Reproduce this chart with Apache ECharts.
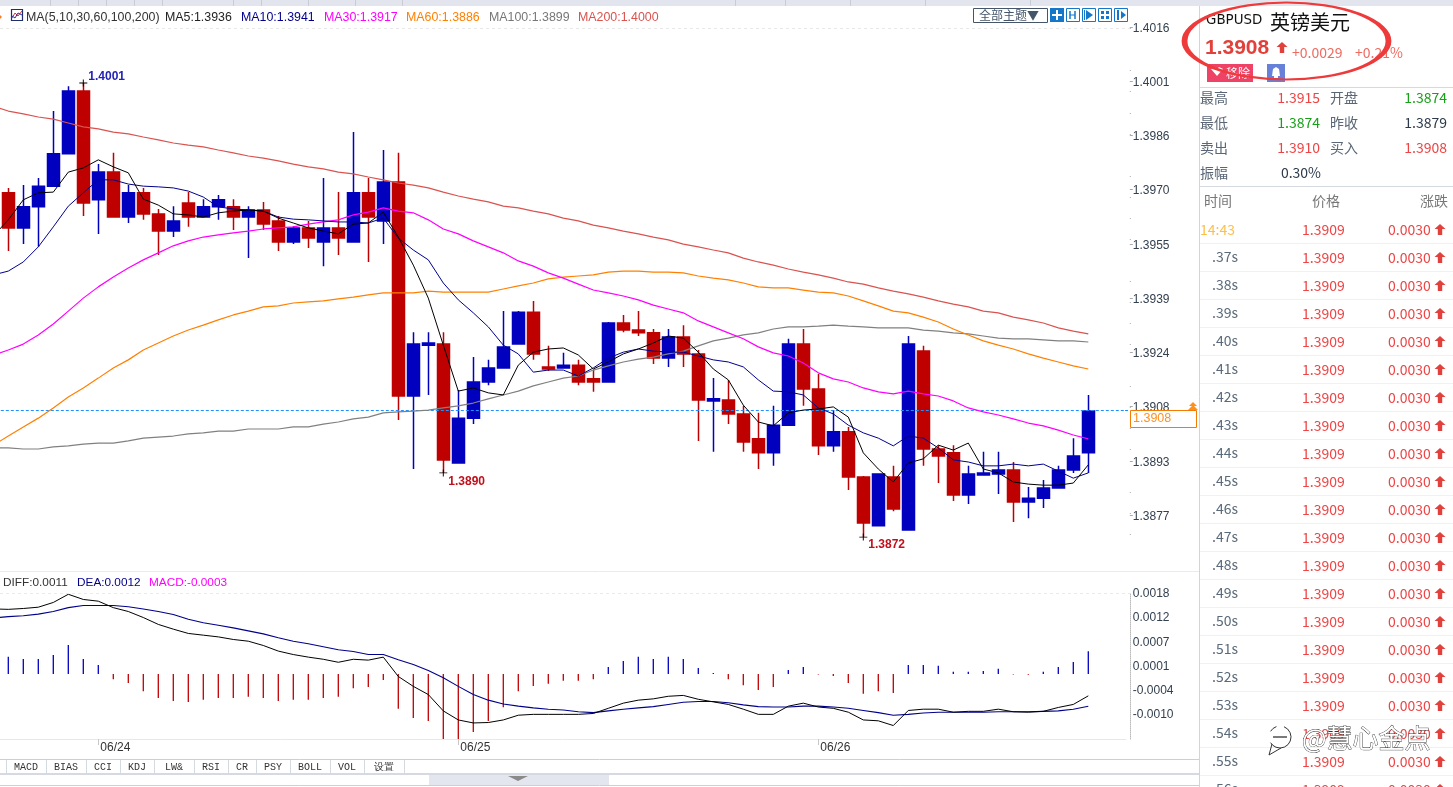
<!DOCTYPE html>
<html><head><meta charset="utf-8"><title>GBPUSD</title>
<script src="https://cdn.jsdelivr.net/npm/echarts@6/dist/echarts.min.js"></script>
<style>html,body{margin:0;padding:0;background:#fff;overflow:hidden}#c{width:1453px;height:787px}</style>
</head><body><div id="c"></div>
<script>
const opens=[1.39692,1.39592,1.39652,1.39711,1.39803,1.39982,1.39672,1.39751,1.39623,1.39692,1.39632,1.39583,1.39663,1.39623,1.39652,1.39652,1.39623,1.39643,1.39612,1.39552,1.39592,1.39552,1.39592,1.39552,1.39692,1.39612,1.39723,1.39113,1.39258,1.39261,1.38922,1.39050,1.39153,1.39193,1.39261,1.39352,1.39196,1.39193,1.39201,1.39162,1.39153,1.39321,1.39301,1.39293,1.39221,1.39281,1.39233,1.39099,1.39102,1.39062,1.38991,1.38951,1.39030,1.39261,1.39133,1.38971,1.39011,1.38882,1.38743,1.38882,1.38731,1.39241,1.38962,1.38951,1.38831,1.38888,1.38891,1.38902,1.38811,1.38822,1.38851,1.38902,1.38951];
const closes=[1.39592,1.39652,1.39711,1.39803,1.39982,1.39663,1.39751,1.39623,1.39692,1.39632,1.39583,1.39612,1.39623,1.39652,1.39672,1.39623,1.39643,1.39603,1.39552,1.39592,1.39563,1.39592,1.39563,1.39692,1.39623,1.39723,1.39113,1.39261,1.39264,1.38931,1.39050,1.39153,1.39193,1.39253,1.39352,1.39233,1.39190,1.39201,1.39153,1.39153,1.39321,1.39301,1.39293,1.39221,1.39281,1.39233,1.39102,1.39105,1.39062,1.38982,1.38951,1.39030,1.39261,1.39133,1.38971,1.39011,1.38882,1.38751,1.38891,1.38791,1.39261,1.38962,1.38942,1.38831,1.38891,1.38894,1.38902,1.38811,1.38822,1.38851,1.38902,1.38942,1.39070];
const lows=[1.39526,1.39546,1.39538,1.39711,1.39803,1.39626,1.39575,1.39623,1.39606,1.39615,1.39515,1.39566,1.39595,1.39623,1.39615,1.39586,1.39506,1.39586,1.39526,1.39546,1.39535,1.39483,1.39515,1.39552,1.39495,1.39546,1.39045,1.38905,1.39116,1.38894,1.38922,1.39033,1.39144,1.39193,1.39261,1.39216,1.39184,1.39193,1.39144,1.39125,1.39153,1.39295,1.39284,1.39204,1.39196,1.39196,1.38985,1.38954,1.39033,1.38954,1.38905,1.38914,1.39030,1.39085,1.38945,1.38954,1.38845,1.38711,1.38743,1.38785,1.38731,1.38914,1.38865,1.38814,1.38805,1.38888,1.38834,1.38754,1.38765,1.38794,1.38851,1.38894,1.38894];
const highs=[1.39706,1.39714,1.39734,1.39925,1.39996,1.40005,1.39774,1.39806,1.39714,1.39706,1.39646,1.39654,1.39694,1.39674,1.39686,1.39674,1.39654,1.39666,1.39626,1.39597,1.39612,1.39734,1.39694,1.39865,1.39734,1.39814,1.39806,1.39295,1.39295,1.39295,1.39130,1.39224,1.39216,1.39355,1.39355,1.39384,1.39256,1.39236,1.39216,1.39187,1.39324,1.39344,1.39355,1.39304,1.39304,1.39315,1.39244,1.39164,1.39159,1.39085,1.39065,1.39085,1.39276,1.39304,1.39176,1.39073,1.39025,1.38885,1.38891,1.38914,1.39284,1.39256,1.38973,1.38973,1.38914,1.38954,1.38954,1.38925,1.38854,1.38874,1.38914,1.38993,1.39116];
// first value of each line belongs to the bar just off the left edge
const ma5=[1.39569,1.39615,1.39672,1.39692,1.39694,1.39751,1.39763,1.39786,1.39766,1.39749,1.39674,1.39657,1.39632,1.39629,1.39623,1.39635,1.39640,1.39643,1.39640,1.39620,1.39606,1.39592,1.39583,1.39575,1.39603,1.39606,1.39637,1.39566,1.39486,1.39392,1.39258,1.39127,1.39136,1.39122,1.39116,1.39201,1.39238,1.39247,1.39250,1.39230,1.39190,1.39210,1.39233,1.39247,1.39264,1.39284,1.39278,1.39238,1.39190,1.39159,1.39087,1.39039,1.39028,1.39065,1.39073,1.39076,1.39082,1.39053,1.38951,1.38905,1.38868,1.38922,1.38934,1.38973,1.38959,1.38979,1.38905,1.38894,1.38868,1.38862,1.38859,1.38859,1.38865,1.38917];
const ma10=[1.39458,1.39469,1.39495,1.39538,1.39595,1.39654,1.39692,1.39729,1.39729,1.39717,1.39711,1.39709,1.39706,1.39697,1.39680,1.39652,1.39646,1.39643,1.39640,1.39623,1.39617,1.39615,1.39612,1.39609,1.39609,1.39606,1.39620,1.39563,1.39529,1.39501,1.39435,1.39387,1.39350,1.39310,1.39258,1.39233,1.39181,1.39187,1.39187,1.39170,1.39193,1.39221,1.39238,1.39247,1.39241,1.39238,1.39238,1.39227,1.39216,1.39210,1.39196,1.39159,1.39127,1.39125,1.39116,1.39079,1.39062,1.39030,1.39008,1.38993,1.38971,1.38999,1.38993,1.38965,1.38931,1.38925,1.38914,1.38914,1.38919,1.38914,1.38919,1.38899,1.38879,1.38894];
const ma30=[1.39230,1.39244,1.39261,1.39287,1.39318,1.39355,1.39392,1.39424,1.39452,1.39478,1.39501,1.39521,1.39541,1.39555,1.39566,1.39572,1.39578,1.39583,1.39589,1.39592,1.39595,1.39603,1.39609,1.39615,1.39629,1.39637,1.39649,1.39640,1.39635,1.39615,1.39589,1.39575,1.39555,1.39538,1.39521,1.39498,1.39483,1.39464,1.39449,1.39432,1.39415,1.39407,1.39398,1.39387,1.39372,1.39361,1.39350,1.39327,1.39310,1.39293,1.39276,1.39253,1.39236,1.39227,1.39207,1.39179,1.39162,1.39153,1.39136,1.39125,1.39119,1.39127,1.39119,1.39113,1.39099,1.39079,1.39068,1.39059,1.39048,1.39036,1.39028,1.39016,1.39002,1.38991];
const ma60=[1.38973,1.38999,1.39025,1.39050,1.39079,1.39110,1.39136,1.39164,1.39193,1.39216,1.39244,1.39264,1.39284,1.39301,1.39315,1.39330,1.39344,1.39355,1.39367,1.39370,1.39378,1.39381,1.39384,1.39390,1.39395,1.39401,1.39407,1.39407,1.39407,1.39412,1.39409,1.39409,1.39409,1.39409,1.39418,1.39427,1.39435,1.39447,1.39452,1.39455,1.39458,1.39466,1.39469,1.39469,1.39466,1.39466,1.39464,1.39455,1.39449,1.39444,1.39435,1.39424,1.39421,1.39421,1.39415,1.39409,1.39407,1.39398,1.39384,1.39370,1.39355,1.39350,1.39338,1.39324,1.39304,1.39287,1.39270,1.39258,1.39247,1.39233,1.39221,1.39210,1.39199,1.39190];
const ma100=[1.38965,1.38965,1.38962,1.38962,1.38968,1.38971,1.38976,1.38979,1.38979,1.38985,1.38993,1.38996,1.38999,1.39005,1.39008,1.39013,1.39013,1.39019,1.39019,1.39019,1.39025,1.39025,1.39033,1.39039,1.39048,1.39053,1.39065,1.39068,1.39070,1.39073,1.39079,1.39085,1.39093,1.39105,1.39116,1.39127,1.39142,1.39153,1.39164,1.39170,1.39187,1.39199,1.39210,1.39218,1.39224,1.39233,1.39241,1.39256,1.39270,1.39278,1.39287,1.39293,1.39304,1.39310,1.39310,1.39312,1.39315,1.39312,1.39310,1.39307,1.39307,1.39307,1.39301,1.39298,1.39293,1.39290,1.39284,1.39278,1.39276,1.39276,1.39273,1.39270,1.39270,1.39267];
const ma200=[1.39939,1.39925,1.39917,1.39908,1.39902,1.39891,1.39880,1.39874,1.39865,1.39860,1.39851,1.39843,1.39834,1.39828,1.39823,1.39814,1.39806,1.39797,1.39791,1.39783,1.39774,1.39766,1.39760,1.39751,1.39746,1.39737,1.39729,1.39720,1.39714,1.39706,1.39694,1.39683,1.39674,1.39666,1.39654,1.39649,1.39640,1.39632,1.39620,1.39612,1.39600,1.39592,1.39583,1.39575,1.39566,1.39558,1.39546,1.39538,1.39529,1.39521,1.39506,1.39495,1.39486,1.39475,1.39466,1.39458,1.39449,1.39438,1.39432,1.39421,1.39412,1.39404,1.39395,1.39384,1.39375,1.39367,1.39355,1.39350,1.39338,1.39330,1.39321,1.39307,1.39298,1.39290];
const diff=[0.00143,0.00142,0.00144,0.00147,0.00158,0.00177,0.00165,0.00161,0.00146,0.00137,0.00123,0.00107,0.00096,0.00086,0.00082,0.00078,0.00072,0.00068,0.00058,0.00045,0.00037,0.00031,0.00026,0.00019,0.00026,0.00024,0.00031,-0.00014,-0.00037,-0.00056,-0.00094,-0.00115,-0.00122,-0.00121,-0.00115,-0.00104,-0.00102,-0.00102,-0.00102,-0.00102,-0.00100,-0.00088,-0.00076,-0.00069,-0.00066,-0.00060,-0.00058,-0.00067,-0.00073,-0.00079,-0.00090,-0.00102,-0.00102,-0.00083,-0.00076,-0.00085,-0.00088,-0.00097,-0.00115,-0.00117,-0.00128,-0.00093,-0.00090,-0.00090,-0.00097,-0.00095,-0.00095,-0.00090,-0.00096,-0.00097,-0.00095,-0.00086,-0.00079,-0.00059];
const dea=[0.00122,0.00125,0.00127,0.00131,0.00137,0.00146,0.00151,0.00151,0.00151,0.00148,0.00143,0.00137,0.00130,0.00119,0.00111,0.00105,0.00099,0.00092,0.00085,0.00076,0.00068,0.00062,0.00055,0.00048,0.00044,0.00037,0.00037,0.00025,0.00014,0.00000,-0.00017,-0.00037,-0.00056,-0.00069,-0.00078,-0.00083,-0.00087,-0.00090,-0.00092,-0.00096,-0.00098,-0.00094,-0.00090,-0.00087,-0.00084,-0.00079,-0.00074,-0.00072,-0.00072,-0.00075,-0.00080,-0.00084,-0.00085,-0.00085,-0.00083,-0.00083,-0.00085,-0.00088,-0.00093,-0.00098,-0.00104,-0.00102,-0.00099,-0.00097,-0.00097,-0.00097,-0.00097,-0.00096,-0.00096,-0.00096,-0.00095,-0.00094,-0.00090,-0.00083];
const macd=[0.00040,0.00035,0.00035,0.00044,0.00067,0.00035,0.00021,-0.00012,-0.00021,-0.00040,-0.00056,-0.00063,-0.00065,-0.00060,-0.00056,-0.00056,-0.00053,-0.00056,-0.00063,-0.00060,-0.00060,-0.00056,-0.00053,-0.00033,-0.00030,-0.00014,-0.00081,-0.00102,-0.00109,-0.00151,-0.00151,-0.00135,-0.00109,-0.00077,-0.00040,-0.00028,-0.00023,-0.00016,-0.00016,-0.00012,0.00016,0.00030,0.00040,0.00035,0.00040,0.00035,0.00014,0.00002,-0.00012,-0.00026,-0.00037,-0.00030,0.00009,0.00016,-0.00001,-0.00005,-0.00021,-0.00046,-0.00040,-0.00044,0.00021,0.00021,0.00019,0.00005,0.00005,0.00007,0.00012,-0.00001,-0.00002,0.00005,0.00016,0.00028,0.00053];
const priceTicks=[1.38774,1.389285,1.39083,1.392375,1.39392,1.395465,1.39701,1.398555,1.4001,1.401645];
const macdTicks=[0.0018,0.00124,0.00068,0.00012,-0.00044,-0.0010];
const dateTicks={7:'06/24',31:'06/25',55:'06/26'};
const lastPrice=1.39072;
const extremes=[{i:5,value:1.40005,text:'1.4001',color:'#2323b8',offset:[0,-6]},{i:29,value:1.38894,text:'1.3890',color:'#c0101c',offset:[0,9]},{i:57,value:1.38711,text:'1.3872',color:'#c0101c',offset:[0,8]}];
const maHeader=[['MA(5,10,30,60,100,200)',26,'#333'],['MA5:1.3936',165,'#222'],['MA10:1.3941',241,'#00008b'],['MA30:1.3917',324,'#ff00ff'],['MA60:1.3886',406,'#ff8000'],['MA100:1.3899',489,'#777'],['MA200:1.4000',578,'#d9534f']];
const macdHeader=[['DIFF:0.0011',3,'#333'],['DEA:0.0012',77,'#00008b'],['MACD:-0.0003',149,'#ff00ff']];
const tabs=['MACD','BIAS','CCI','KDJ','LW&','RSI','CR','PSY','BOLL','VOL','设置'];
const tabEdges=[6,46,86,120,154,194,228,256,290,330,364,404];
const statRows=[['最高','1.3915','开盘','1.3874','#ee4444','#18a018',98],['最低','1.3874','昨收','1.3879','#18a018','#2b3a4a',123],['卖出','1.3910','买入','1.3908','#ee4444','#ee4444',148]];
const tapeTimes=['14:43','.37s','.38s','.39s','.40s','.41s','.42s','.43s','.44s','.45s','.46s','.47s','.48s','.49s','.50s','.51s','.52s','.53s','.54s','.55s','.56s'];
const tapePrice='1.3909', tapeChange='0.0030';

const UP='#0000be', DOWN='#be0000';
const n=opens.length;
const candle=[['-','-','-','-']];
for(let i=0;i<n;i++) candle.push([opens[i],closes[i],lows[i],highs[i]]);
const TOTAL=n+3;
const cats=Array.from({length:TOTAL},(_,j)=>String(j));
const macdBars=['-'].concat(macd);

const lineSeries=(name,data,color,w,xi,yi)=>({name,type:'line',data,xAxisIndex:xi,yAxisIndex:yi,showSymbol:false,symbol:'none',smooth:false,silent:true,lineStyle:{color,width:w},z:5});

const g=[];
const UI='"Noto Sans CJK SC","Noto Sans",sans-serif', AR='"Liberation Sans",Arial,sans-serif';
const T=(x,y,text,fill,font,align)=>g.push({type:'text',z:50,silent:true,style:{x,y,text,fill,font,textAlign:align||'left',textVerticalAlign:'middle'}});
const R=(x,y,w,h,fill,stroke,lw,z)=>g.push({type:'rect',z:z||40,silent:true,shape:{x,y,width:w,height:h},style:{fill:fill||'transparent',stroke:stroke||'transparent',lineWidth:lw||0}});
const L=(x1,y1,x2,y2,c,lw,dash,z)=>g.push({type:'line',z:z||40,silent:true,shape:{x1,y1,x2,y2},style:{stroke:c,lineWidth:lw||1,lineDash:dash||[]}});
const Up=(cx,cy,c)=>g.push({type:'polygon',z:50,silent:true,shape:{points:[[cx,cy-6],[cx+5.5,cy-1],[cx+2.2,cy-1],[cx+2.2,cy+5],[cx-2.2,cy+5],[cx-2.2,cy-1],[cx-5.5,cy-1]]},style:{fill:c}});

// window chrome
R(0,0,1453,6,'#e3e5ee');
[50,78,106,134,162,233,261,308,355,402,735,785,850,925,1030].forEach(x=>L(x+.5,0,x+.5,6,'#c9ccd6'));
R(1199,6,254,781,'#fff');
L(1199.5,6,1199.5,787,'#cfd5dc');
L(0,28.5,1130,28.5,'#e8e8e8',1,[3,3]);
L(0,571.5,1199,571.5,'#e9ecef');
L(0,593.5,1130,593.5,'#eaeaea',1,[3,3]);
// MA header
g.push({type:'polygon',z:50,silent:true,shape:{points:[[0,15],[2,17],[0,19]]},style:{fill:'#f08030'}});
R(11.5,9.5,11,11,'#fff','#1f2d6b',1.2);
g.push({type:'polyline',z:51,silent:true,shape:{points:[[12,18],[15,13],[18,16],[22,11]]},style:{stroke:'#e03030',fill:'transparent',lineWidth:1}});
g.push({type:'polyline',z:51,silent:true,shape:{points:[[12,16],[15,18],[18,13],[22,15]]},style:{stroke:'#2030c0',fill:'transparent',lineWidth:1}});
maHeader.forEach(h=>T(h[1],18,h[0],h[2],'12.4px '+AR));
macdHeader.forEach(h=>T(h[1],583,h[0],h[2],'11.8px '+AR));
// toolbar
R(973.5,8.5,74,14,'#fff','#45566b',1);
T(979,15.5,'全部主题▼','#45566b','12px '+UI);
R(1050,8,14,14,'#1577c9');
L(1057,10,1057,20,'#fff',2,[],41); L(1052,15,1062,15,'#fff',2,[],41);
[1066,1082,1098,1114].forEach((x,k)=>{R(x+.5,8.5,13,13,'#fff','#1577c9',1);
 if(k===0){L(x+4,11,x+4,19,'#1577c9',1.5,[],41);L(x+9,11,x+9,19,'#1577c9',1.5,[],41);L(x+4,15,x+9,15,'#1577c9',1,[],41);}
 if(k===1){g.push({type:'polygon',z:51,silent:true,shape:{points:[[x+4,10],[x+11,15],[x+4,20]]},style:{fill:'#1577c9'}});L(x+2.5,10,x+2.5,20,'#1577c9',1,[],41);}
 if(k===2){[[3,3],[8,3],[3,8],[8,8]].forEach(p=>R(x+p[0],8+p[1],3,3,'#1577c9',null,0,41));}
 if(k===3){L(x+4,10,x+4,20,'#1577c9',2,[],41);g.push({type:'polygon',z:51,silent:true,shape:{points:[[x+7,11],[x+12,15],[x+7,19]]},style:{fill:'#1577c9'}});}
});
// last-price tag
L(1125,410.5,1130,410.5,'#1e90ff',1,[3,2],6);
R(1130.5,410.5,66,17,'#fff','#f57c00',1,45);
T(1133,419,'1.3908','#ff9020','12.5px '+AR);
g.push({type:'polygon',z:50,silent:true,shape:{points:[[1193,402],[1197,406],[1189,406]]},style:{fill:'#ff9020'}});
g.push({type:'polygon',z:50,silent:true,shape:{points:[[1193,405],[1198,410],[1188,410]]},style:{fill:'#ff9020'}});
// bottom tabs
L(0,759.5,1199,759.5,'#c8d0d8');
tabs.forEach((t,k)=>{const a=tabEdges[k],b=tabEdges[k+1];T((a+b)/2,767,t,'#333','10px "Liberation Mono",monospace','center');L(b+.5,760,b+.5,774,'#d5dae0');});
L(6.5,760,6.5,774,'#d5dae0');
R(0,773,1199,2,'#d5dae2');
L(0,785.5,1199,785.5,'#c8d0d8');
R(429,775,180,10,'#e3e6ef');
g.push({type:'polygon',z:51,silent:true,shape:{points:[[508,776],[528,776],[518,781]]},style:{fill:'#8a8a8a'}});
// right panel head
T(1206,21,'GBPUSD','#111','13.4px "DejaVu Sans",sans-serif');
T(1270,22,'英镑美元','#111','20px '+UI);
T(1205,48,'1.3908','#e2403a','bold 21px '+AR);
Up(1282,48,'#e2403a');
T(1292,53,'+0.0029','#ee6b60','14px '+UI);
T(1355,53,'+0.21%','#ee6b60','14px '+UI);
R(1207,64,46,18,'#ee4266');
T(1226,73,'移除','#fff','12px '+UI);
g.push({type:'polygon',z:51,silent:true,shape:{points:[[1211,69],[1215,67],[1217,69],[1219,67],[1223,69],[1217,76]]},style:{fill:'#fff'}});
R(1267,64,18,18,'#6781d8');
g.push({type:'polygon',z:51,silent:true,shape:{points:[[1276,67],[1279,69],[1280,76],[1272,76],[1273,69]]},style:{fill:'#fff'}});
R(1274,76,4,2,'#fff',null,0,51);
L(1200,87.5,1453,87.5,'#d5dae0');
L(1200,186.5,1453,186.5,'#d5dae0');
statRows.forEach(r=>{T(1200,r[6],r[0],'#5a6675','14px '+UI);T(1320,r[6],r[1],r[4],'14px '+UI,'right');T(1330,r[6],r[2],'#5a6675','14px '+UI);T(1447,r[6],r[3],r[5],'14px '+UI,'right');});
T(1200,173,'振幅','#5a6675','14px '+UI);T(1321,173,'0.30%','#2b3a4a','14px '+UI,'right');
T(1204,201,'时间','#777','14px '+UI);T(1312,201,'价格','#777','14px '+UI);T(1420,201,'涨跌','#777','14px '+UI);
tapeTimes.forEach((t,k)=>{const y=230+28*k;
 if(k===0) T(1200,y,t,'#fcbf49','14px '+UI); else T(1212,y-1,t,'#5a6a7a','14px '+UI);
 T(1302,y,tapePrice,'#ee4444','14px '+UI);
 T(1388,y,tapeChange,'#ee4444','14px '+UI);
 Up(1440,y,'#e2403a');
 L(1200,y+13.5,1453,y+13.5,'#f1f1f1');
});
// red hand-drawn ring and watermark
g.push({type:'circle',z:60,silent:true,scaleX:102/38.5,originX:1286.5,originY:41,shape:{cx:1286.5,cy:41,r:38.5},style:{fill:'transparent',stroke:'#ee3a3a',lineWidth:2.2,strokeNoScale:true}});
g.push({type:'text',z:70,silent:true,style:{x:1302,y:738,text:'@慧心金点',fill:'#fff',stroke:'#333',lineWidth:0.8,font:'26px '+UI,textAlign:'left',textVerticalAlign:'middle'}});
g.push({type:'arc',z:70,silent:true,shape:{cx:1280,cy:737,r:11,startAngle:-1.2,endAngle:2.6,clockwise:true},style:{fill:'transparent',stroke:'#333',lineWidth:1}});
g.push({type:'arc',z:70,silent:true,shape:{cx:1280,cy:737,r:11,startAngle:-2.6,endAngle:-1.9,clockwise:true},style:{fill:'transparent',stroke:'#333',lineWidth:1}});
L(1273,737,1287,737,'#333',1.3,[],71);
g.push({type:'polyline',z:71,silent:true,shape:{points:[[1272,744],[1269,755],[1281,748]]},style:{stroke:'#333',fill:'transparent',lineWidth:1}});

const chart=echarts.init(document.getElementById('c'),null,{renderer:'canvas',width:1453,height:787});
chart.setOption({
 animation:false,backgroundColor:'#fff',
 textStyle:{fontFamily:AR},
 grid:[{left:-14.2,width:1140,top:27,height:528,containLabel:false,outerBoundsMode:'none'},{left:-14.2,width:1140,top:593,height:146,containLabel:false,outerBoundsMode:'none'}],
 xAxis:[
  {type:'category',gridIndex:0,data:cats,boundaryGap:true,axisLine:{show:false,onZero:false},axisTick:{show:false},axisLabel:{show:false},splitLine:{show:false}},
  {type:'category',gridIndex:1,data:cats,boundaryGap:true,axisLine:{show:true,onZero:false,lineStyle:{color:'#e6e8ea'}},
   axisTick:{show:true,alignWithLabel:true,length:6,lineStyle:{color:'#c8c8c8'},interval:(i)=>!!dateTicks[i]},
   axisLabel:{show:true,interval:(i)=>!!dateTicks[i],formatter:v=>dateTicks[v]?'{d|'+dateTicks[v]+'}':'',align:'left',margin:2,hideOverlap:false,rich:{d:{color:'#333',fontSize:12,fontFamily:AR,padding:[1,0,0,2]}}},splitLine:{show:false}}
 ],
 yAxis:[
  {type:'value',gridIndex:0,position:'right',offset:4,min:1.3866,max:1.401645,
   axisLine:{show:false},splitLine:{show:false},
   axisTick:{show:true,length:3,lineStyle:{color:'#aaa'},customValues:priceTicks},
   minorTick:{show:true,splitNumber:5,length:1,lineStyle:{color:'#aaa'}},
   axisLabel:{show:true,margin:3,align:'left',formatter:v=>'{p|'+v.toFixed(4)+'}',customValues:priceTicks,showMinLabel:true,showMaxLabel:true,rich:{p:{color:'#33404f',fontSize:12,fontFamily:AR,padding:[3,0,0,0]}}}},
  {type:'value',gridIndex:1,position:'right',offset:4,min:-0.001593,max:0.0018,
   axisLine:{show:true,lineStyle:{color:'#bbb',type:'dotted'}},splitLine:{show:false},
   axisTick:{show:false,customValues:macdTicks},
   axisLabel:{show:true,margin:3,align:'left',formatter:v=>'{p|'+v.toFixed(4)+'}',customValues:macdTicks,showMinLabel:true,showMaxLabel:true,rich:{p:{color:'#33404f',fontSize:12,fontFamily:AR,padding:[2,0,0,0]}}}},
  {type:'value',gridIndex:1,show:false,min:-0.00151,max:0.00188,splitLine:{show:false}}
 ],
 series:[
  {name:'K',type:'candlestick',xAxisIndex:0,yAxisIndex:0,data:candle,barWidth:12,silent:true,z:2,
   itemStyle:{color:UP,color0:DOWN,borderColor:UP,borderColor0:DOWN,borderColorDoji:UP,borderWidth:1.5},
   markPoint:{silent:true,animation:false,symbol:'path://M0,4.4H10V5.6H0ZM4.4,0H5.6V10H4.4Z',symbolSize:[8,7],itemStyle:{color:'#000'},
    data:extremes.map(e=>({coord:[String(e.i+1),e.value],value:e.value,label:{show:true,formatter:e.text,position:'right',distance:1,offset:e.offset,color:e.color,fontWeight:'bold',fontSize:12,fontFamily:AR}}))},
   markLine:{silent:true,animation:false,precision:5,symbol:'none',label:{show:false},data:[{yAxis:lastPrice,lineStyle:{color:'#1e90ff',type:[3,2],width:1}}]}},
  lineSeries('MA200',ma200,'#d9534f',1.2,0,0),
  lineSeries('MA100',ma100,'#808080',1.2,0,0),
  lineSeries('MA60',ma60,'#ff8000',1.2,0,0),
  lineSeries('MA30',ma30,'#ff00ff',1.2,0,0),
  lineSeries('MA10',ma10,'#00008b',1,0,0),
  lineSeries('MA5',ma5,'#000',1,0,0),
  {name:'MACD',type:'bar',xAxisIndex:1,yAxisIndex:2,data:macdBars,barWidth:1.3,silent:true,z:2,itemStyle:{color:p=>p.value>=0?UP:DOWN}},
  lineSeries('DEA',dea,'#00008b',1.1,1,1),
  lineSeries('DIFF',diff,'#000',1,1,1)
 ],
 graphic:{elements:g}
});
</script></body></html>
